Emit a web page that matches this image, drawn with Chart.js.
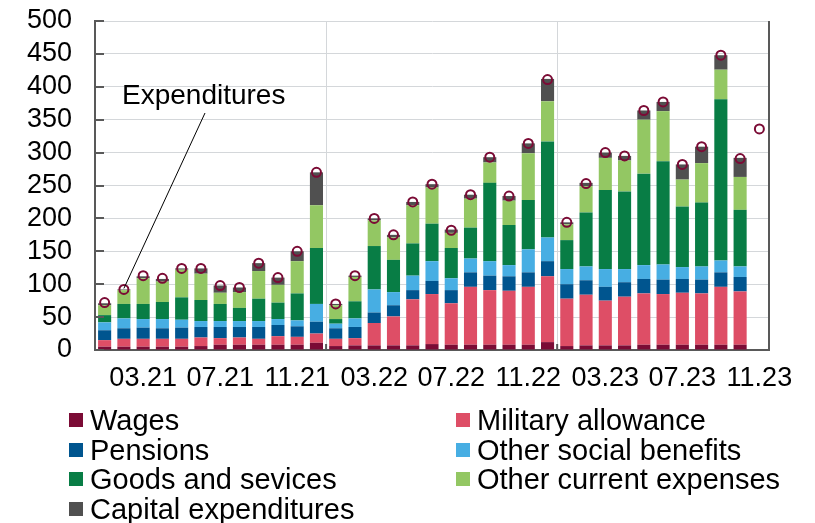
<!DOCTYPE html>
<html>
<head>
<meta charset="utf-8">
<title>Budget expenditures</title>
<script src="https://cdn.jsdelivr.net/npm/chart.js@4.4.0/dist/chart.umd.min.js"></script>
<style>
    body { margin: 0; background: #fff; }
    #wrap { position: relative; width: 815px; height: 523px; font-family: "Liberation Sans", Arial, sans-serif; }
    .legend-item { position: absolute; display: flex; align-items: center; font-size: 29px; line-height: 30px; color: #000; white-space: nowrap; }
    .legend-box { width: 14px; height: 14px; margin-right: 7px; }
</style>
</head>
<body>
<div id="wrap">
    <canvas id="budgetChart" width="815" height="523"></canvas>
    <div id="budgetLegend"></div>
</div>
<script>
// Monthly categories, Jan 2021 - Nov 2023
const months = [
    '01.21', '02.21', '03.21', '04.21', '05.21', '06.21', '07.21', '08.21', '09.21', '10.21', '11.21', '12.21',
    '01.22', '02.22', '03.22', '04.22', '05.22', '06.22', '07.22', '08.22', '09.22', '10.22', '11.22', '12.22',
    '01.23', '02.23', '03.23', '04.23', '05.23', '06.23', '07.23', '08.23', '09.23', '10.23', '11.23'
];
const tickLabels = ['03.21', '07.21', '11.21', '03.22', '07.22', '11.22', '03.23', '07.23', '11.23'];

// Components (last month has only the total)
const wages = [5, 5, 5, 5, 5, 6, 8, 8, 8, 8, 8, 11, 6, 7, 7, 7, 7, 9, 8, 8, 8, 8, 8, 12, 6, 7, 7, 7, 8, 8, 8, 8, 8, 8, null];
const militaryAllowance = [10, 12, 12, 12, 12, 13, 10, 11, 9, 13, 12, 14, 11, 11, 34, 44, 70, 76, 63, 88, 83, 82, 88, 100, 72, 77, 68, 74, 78, 77, 79, 78, 88, 81, null];
const pensions = [15, 16, 17, 16, 17, 16, 17, 16, 18, 17, 16, 18, 16, 17, 16, 17, 14, 20, 20, 22, 22, 22, 22, 23, 22, 22, 21, 22, 22, 22, 21, 21, 22, 22, null];
const otherSocial = [12, 15, 13, 14, 12, 9, 9, 9, 9, 9, 9, 27, 7, 13, 35, 20, 22, 30, 18, 21, 22, 17, 35, 36, 23, 21, 27, 20, 21, 23, 18, 20, 18, 16, null];
const goodsServices = [11, 22, 23, 26, 34, 32, 26, 20, 34, 25, 41, 85, 7, 26, 66, 49, 49, 57, 46, 47, 119, 61, 75, 146, 44, 82, 120, 118, 139, 157, 92, 97, 245, 86, null];
const otherCurrent = [15, 21, 39, 31, 42, 40, 17, 24, 42, 27, 49, 65, 21, 37, 39, 34, 58, 55, 23, 44, 31, 37, 71, 61, 24, 40, 49, 47, 82, 76, 41, 60, 45, 50, null];
const capital = [3, 1, 3, 4, 2, 8, 11, 7, 12, 11, 15, 50, 2, 2, 3, 4, 5, 5, 5, 6, 8, 7, 15, 34, 3, 5, 8, 7, 14, 14, 23, 25, 22, 29, null];
const expenditures = [72, 92, 113, 109, 124, 124, 98, 95, 132, 110, 150, 270, 70, 113, 200, 175, 225, 252, 182, 236, 293, 234, 314, 411, 194, 253, 300, 295, 364, 377, 282, 309, 448, 291, 336];

const FONT = '"Liberation Sans", Arial, sans-serif';
const AXIS_COLOR = '#595959';
const GRID_COLOR = '#d4d7da';

const series = [
    { label: 'Wages', data: wages, color: '#7b0b35' },
    { label: 'Military allowance', data: militaryAllowance, color: '#de4e66' },
    { label: 'Pensions', data: pensions, color: '#00558f' },
    { label: 'Other social benefits', data: otherSocial, color: '#47aee3' },
    { label: 'Goods and sevices', data: goodsServices, color: '#087d45' },
    { label: 'Other current expenses', data: otherCurrent, color: '#93c763' },
    { label: 'Capital expenditures', data: capital, color: '#505050' }
];

// Inner tick marks, right frame line and the "Expenditures" callout
const chartDecor = {
    id: 'chartDecor',
    afterDatasetsDraw(chart) {
        const { ctx, chartArea, scales } = chart;
        const x = scales.x, y = scales.y;
        ctx.save();
        ctx.strokeStyle = AXIS_COLOR;
        ctx.lineWidth = 2;
        ctx.beginPath();
        y.ticks.forEach(t => {
            const py = Math.round(y.getPixelForValue(t.value));
            ctx.moveTo(chartArea.left, py);
            ctx.lineTo(chartArea.left + 9, py);
        });
        [12, 24].forEach(i => {
            const px = (x.getPixelForValue(i - 1) + x.getPixelForValue(i)) / 2;
            ctx.moveTo(px, chartArea.bottom);
            ctx.lineTo(px, chartArea.bottom - 6);
        });
        ctx.moveTo(chartArea.right, chartArea.top);
        ctx.lineTo(chartArea.right, chartArea.bottom);
        ctx.stroke();

        // callout
        ctx.strokeStyle = '#000';
        ctx.lineWidth = 1;
        ctx.beginPath();
        ctx.moveTo(205, 113);
        ctx.lineTo(x.getPixelForValue(1), y.getPixelForValue(expenditures[1]) - 1);
        ctx.stroke();
        ctx.fillStyle = '#000';
        ctx.font = '28px ' + FONT;
        ctx.textBaseline = 'alphabetic';
        ctx.fillText('Expenditures', 122, 104);
        ctx.restore();
    }
};

const datasets = [{
    type: 'line',
    label: 'Expenditures',
    data: expenditures,
    stack: 'total',
    order: -1,
    showLine: false,
    pointRadius: 4.5,
    pointBorderWidth: 2,
    pointBorderColor: '#7b0b35',
    pointBackgroundColor: 'rgba(0,0,0,0)'
}].concat(series.map(s => ({
    type: 'bar',
    label: s.label,
    data: s.data,
    backgroundColor: s.color,
    barPercentage: 0.68,
    categoryPercentage: 1
})));

const chart = new Chart(document.getElementById('budgetChart'), {
    data: { labels: months, datasets },
    options: {
        responsive: false,
        animation: false,
        layout: { padding: { top: 21, right: 46, bottom: 123, left: 0 } },
        plugins: { legend: { display: false }, tooltip: { enabled: false } },
        scales: {
            x: {
                stacked: true,
                afterFit: scale => { scale.height = 50; },
                border: { color: AXIS_COLOR, width: 2 },
                grid: {
                    offset: true,
                    drawTicks: false,
                    color: c => (c.index === 12 || c.index === 24) ? GRID_COLOR : 'rgba(0,0,0,0)'
                },
                ticks: {
                    autoSkip: false,
                    maxRotation: 0,
                    minRotation: 0,
                    padding: 12,
                    color: '#000',
                    font: { family: FONT, size: 27 },
                    callback: function (value) {
                        const label = this.getLabelForValue(value);
                        return tickLabels.includes(label) ? label : '';
                    }
                }
            },
            y: {
                stacked: true,
                min: 0,
                max: 500,
                afterFit: scale => {
                    scale.width = 95;
                    // tick padding would otherwise push the plot top down
                    scale.paddingTop = 0;
                    scale.paddingBottom = 0;
                },
                border: { color: AXIS_COLOR, width: 2 },
                grid: { color: GRID_COLOR, drawTicks: false },
                ticks: {
                    stepSize: 50,
                    autoSkip: false,
                    padding: 23,
                    color: '#000',
                    font: { family: FONT, size: 27 }
                }
            }
        }
    },
    plugins: [chartDecor]
});

// HTML legend, two columns
const legendEl = document.getElementById('budgetLegend');
series.forEach((s, i) => {
    const col = i % 2, row = Math.floor(i / 2);
    const item = document.createElement('div');
    item.className = 'legend-item';
    item.style.left = (col ? 456 : 69) + 'px';
    item.style.top = (405 + row * 29.5) + 'px';
    item.innerHTML = `<span class="legend-box" style="background:${s.color}"></span><span>${s.label}</span>`;
    legendEl.appendChild(item);
});
</script>
</body>
</html>
